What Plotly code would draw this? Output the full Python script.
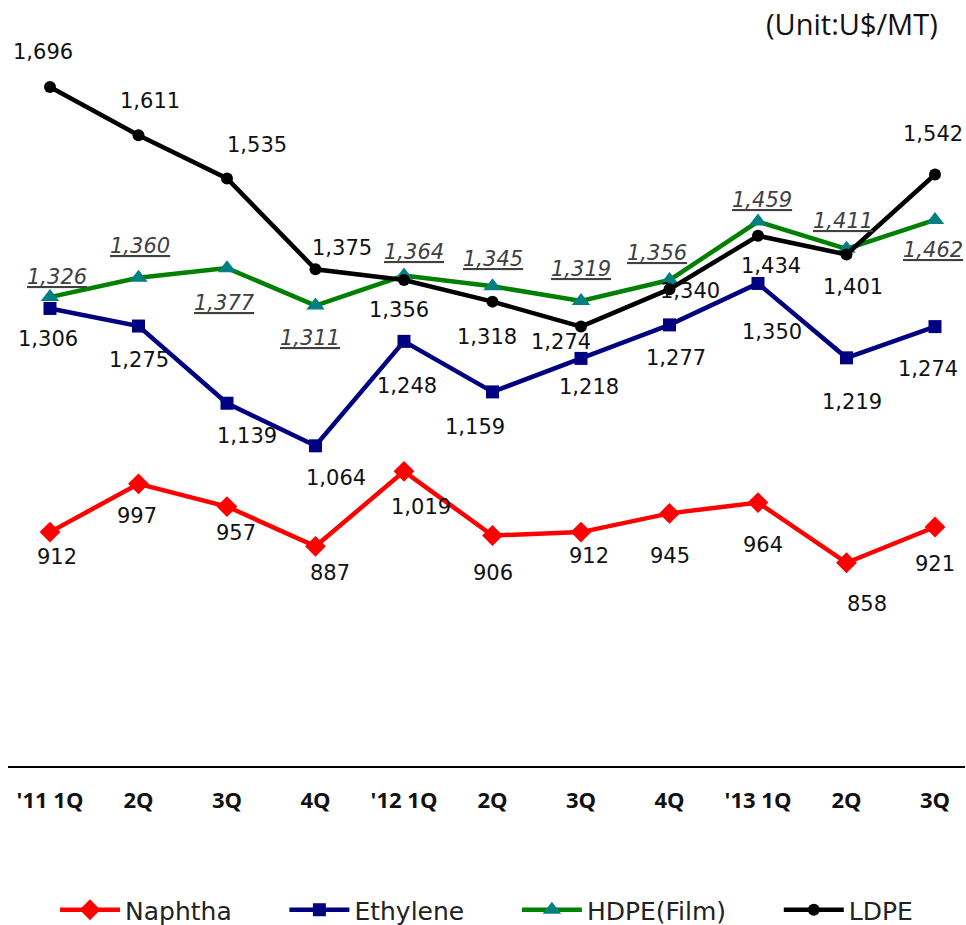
import plotly.graph_objects as go

quarters = ["'11 1Q", "2Q", "3Q", "4Q", "'12 1Q", "2Q", "3Q", "4Q", "'13 1Q", "2Q", "3Q"]
naphtha = [912, 997, 957, 887, 1019, 906, 912, 945, 964, 858, 921]
ethylene = [1306, 1275, 1139, 1064, 1248, 1159, 1218, 1277, 1350, 1219, 1274]
hdpe = [1326, 1360, 1377, 1311, 1364, 1345, 1319, 1356, 1459, 1411, 1462]
ldpe = [1696, 1611, 1535, 1375, 1356, 1318, 1274, 1340, 1434, 1401, 1542]
series_names = ["Naphtha", "Ethylene", "HDPE(Film)", "LDPE"]

# label offsets in pixels (dx right, dy down), styling only
off_naphtha = [(7, 25), (-2, 32), (9, 26), (14, 27), (17, 36), (0, 37), (8, 24), (0, 43), (5, 42), (20, 41), (0, 37)]
off_ethylene = [(-2, 31), (0, 34), (20, 33), (20, 32), (3, 45), (-18, 35), (8, 29), (6, 33), (14, 49), (5, 44), (-7, 42)]
off_hdpe = [(7, -20), (1, -32), (-3, 35), (-6, 32), (10, -24), (0, -27), (0, -32), (-13, -27), (4, -22), (-4, -28), (-2, 30)]
off_ldpe = [(-7, -35), (11, -34), (30, -33), (26, -21), (-5, 30), (-6, 35), (-20, 15), (20, 2), (13, 30), (6, 32), (-2, -40)]

xs = list(range(len(quarters)))
PAD = "\u00a0" * 6

fig = go.Figure()
styles = [
    ("#ff0000", "#ff0000", "diamond", 16),
    ("#000080", "#000080", "square", 13),
    ("#008000", "#008080", "triangle-up", 16),
    ("#000000", "#000000", "circle", 12),
]
for k, (name, vals) in enumerate(zip(series_names, [naphtha, ethylene, hdpe, ldpe])):
    lc, mc, sym, ms = styles[k]
    fig.add_trace(go.Scatter(
        x=xs, y=vals, name=name + (PAD if k < 3 else ""), mode="lines+markers",
        line=dict(color=lc, width=4.5),
        marker=dict(color=mc, symbol=sym, size=ms),
    ))

ann = []
def add_labels(vals, offs, italic=False):
    for i, v in enumerate(vals):
        txt = f"{v:,}"
        if italic:
            txt = f"<i><u>{txt}</u></i>"
        dx, dy = offs[i]
        ann.append(dict(
            x=xs[i], y=v, xref="x", yref="y", text=txt, showarrow=False,
            xshift=dx, yshift=-dy,
            font=dict(family="DejaVu Sans", size=21, color="#404040" if italic else "#111111"),
        ))

add_labels(naphtha, off_naphtha)
add_labels(ethylene, off_ethylene)
add_labels(hdpe, off_hdpe, italic=True)
add_labels(ldpe, off_ldpe)

ann.append(dict(
    x=(940 - 8) / 957, y=(766 - 23) / 738, xref="paper", yref="paper",
    xanchor="right", yanchor="middle",
    text="(Unit:U$/MT)", showarrow=False,
    font=dict(family="Open Sans", size=29, color="#111111"),
))

fig.update_layout(
    width=966, height=925,
    margin=dict(l=8, r=1, t=28, b=159, autoexpand=False),
    paper_bgcolor="white", plot_bgcolor="white",
    showlegend=True,
    legend=dict(
        orientation="h", x=0.5, xanchor="center",
        yref="container", y=1 - 910 / 925, yanchor="middle",
        font=dict(family="DejaVu Sans", size=25, color="#222222"),
        itemwidth=60, tracegroupgap=0,
    ),
    annotations=ann,
    xaxis=dict(
        range=[-0.4746, 10.339], tickmode="array", tickvals=xs, ticktext=quarters,
        showgrid=False, zeroline=False, showline=True, linecolor="black", linewidth=1.5,
        ticks="", ticklabelstandoff=14,
        tickfont=dict(family="Open Sans", size=22, color="#111111", weight="bold"),
    ),
    yaxis=dict(
        range=[500, 1800], showgrid=False, zeroline=False, showticklabels=False,
        showline=False, ticks="",
    ),
)

fig.write_html("out.html")
